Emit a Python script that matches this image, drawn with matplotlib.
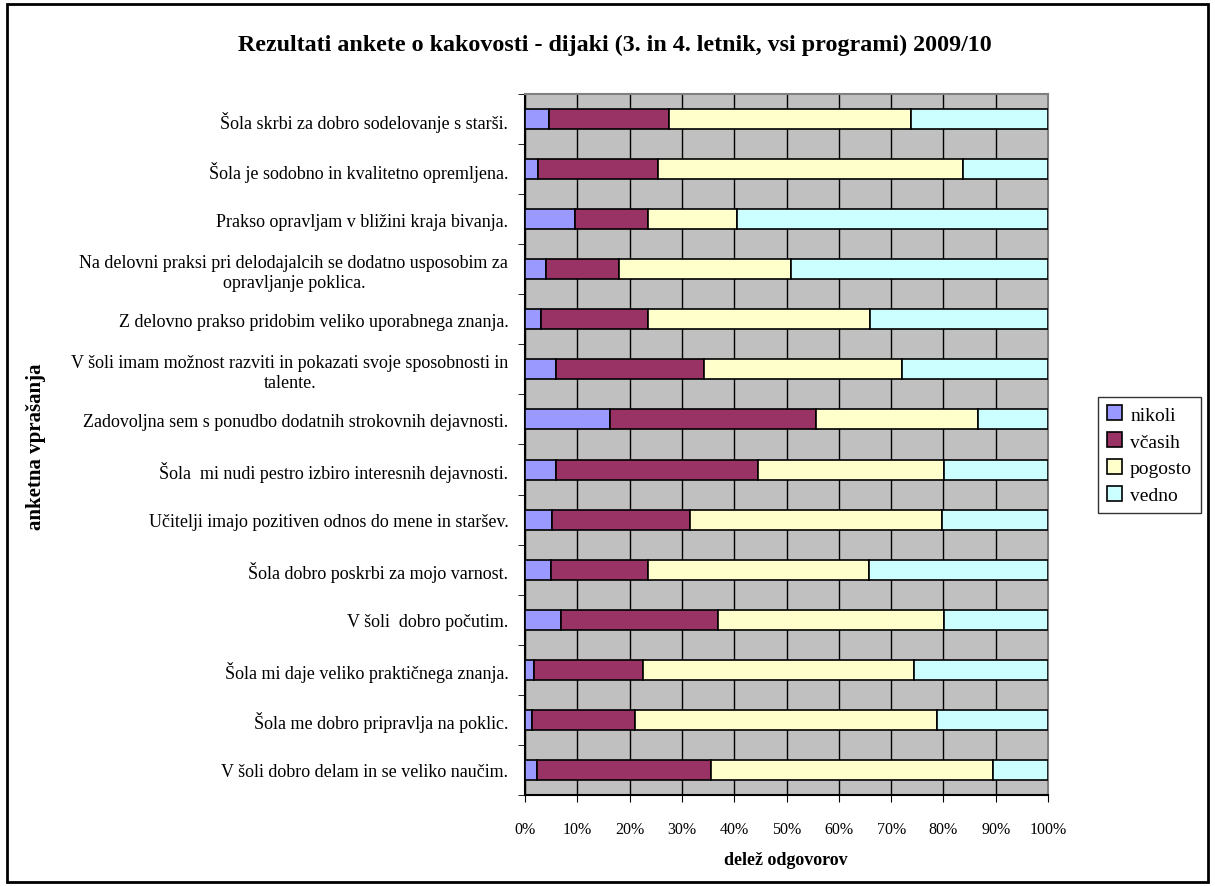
import matplotlib
matplotlib.use('Agg')
import matplotlib.pyplot as plt
from matplotlib.patches import Rectangle
from matplotlib.ticker import PercentFormatter
import numpy as np

plt.rcParams['font.family'] = ['Liberation Serif', 'DejaVu Serif']

# questions, top to bottom
vprasanja = [
    'Šola skrbi za dobro sodelovanje s starši.',
    'Šola je sodobno in kvalitetno opremljena.',
    'Prakso opravljam v bližini kraja bivanja.',
    'Na delovni praksi pri delodajalcih se dodatno usposobim za\nopravljanje poklica.',
    'Z delovno prakso pridobim veliko uporabnega znanja.',
    'V šoli imam možnost razviti in pokazati svoje sposobnosti in\ntalente.',
    'Zadovoljna sem s ponudbo dodatnih strokovnih dejavnosti.',
    'Šola  mi nudi pestro izbiro interesnih dejavnosti.',
    'Učitelji imajo pozitiven odnos do mene in staršev.',
    'Šola dobro poskrbi za mojo varnost.',
    'V šoli  dobro počutim.',
    'Šola mi daje veliko praktičnega znanja.',
    'Šola me dobro pripravlja na poklic.',
    'V šoli dobro delam in se veliko naučim.',
]

# share of answers in %
nikoli  = [4.5, 2.5, 9.5, 4.0, 3.1, 6.0, 16.2, 6.0, 5.1, 4.9, 6.9, 1.8, 1.3, 2.2]
vcasih  = [23.0, 23.0, 14.0, 13.9, 20.4, 28.3, 39.5, 38.5, 26.5, 18.6, 30.0, 20.8, 19.8, 33.4]
pogosto = [46.3, 58.2, 17.1, 32.9, 42.4, 37.8, 30.9, 35.7, 48.2, 42.2, 43.3, 51.7, 57.6, 53.9]
vedno   = [26.2, 16.3, 59.4, 49.2, 34.1, 27.9, 13.4, 19.8, 20.2, 34.3, 19.8, 25.7, 21.3, 10.5]

serije = ['nikoli', 'včasih', 'pogosto', 'vedno']
barve = ['#9999FF', '#993366', '#FFFFCC', '#CCFFFF']

data = np.array([nikoli, vcasih, pogosto, vedno])
data = data / data.sum(axis=0) * 100

fig = plt.figure(figsize=(12.15, 8.87), dpi=100)
ax = fig.add_axes([0.4321, 0.1026, 0.4305, 0.7903])
ax.set_facecolor('#C0C0C0')

y = np.arange(len(vprasanja))
left = np.zeros(len(vprasanja))
for i in range(len(serije)):
    ax.barh(y, data[i], left=left, height=0.4, color=barve[i],
            edgecolor='black', linewidth=1.2, label=serije[i], zorder=3)
    left = left + data[i]

ax.set_xlim(0, 100)
ax.set_ylim(len(vprasanja) - 0.5, -0.5)
ax.set_xticks(np.arange(0, 101, 10))
ax.xaxis.set_major_formatter(PercentFormatter(decimals=0))
ax.grid(axis='x', color='black', linewidth=1, zorder=1)
ax.set_axisbelow(True)

ax.set_yticks(y)
ax.set_yticklabels(vprasanja, fontsize=13, multialignment='center')
ax.set_yticks(np.arange(-0.5, len(vprasanja), 1), minor=True)
ax.tick_params(axis='y', which='major', length=0, pad=12)
ax.tick_params(axis='y', which='minor', length=5, color='black')
ax.tick_params(axis='x', length=5, labelsize=11.5, pad=14)

for s in ax.spines.values():
    s.set_color('#808080')
    s.set_linewidth(1.5)
ax.spines['left'].set_color('black')
ax.spines['bottom'].set_color('black')

fig.text(0.506, 0.949, 'Rezultati ankete o kakovosti - dijaki (3. in 4. letnik, vsi programi) 2009/10',
         ha='center', va='center', fontsize=17.3, fontweight='bold')
fig.text(0.647, 0.030, 'delež odgovorov', ha='center', va='center', fontsize=13, fontweight='bold')
fig.text(0.030, 0.496, 'anketna vprašanja', ha='center', va='center', rotation=90,
         fontsize=15, fontweight='bold')

leg = fig.legend(loc='center left', bbox_to_anchor=(0.9037, 0.486), fontsize=14,
                 frameon=True, fancybox=False, edgecolor='black', handlelength=0.8,
                 handleheight=0.8, handletextpad=0.4, labelspacing=0.45, borderpad=0.45,
                 borderaxespad=0)
leg.get_frame().set_linewidth(1)

fig.patches.append(Rectangle((0.006, 0.004), 0.988, 0.99, transform=fig.transFigure,
                             fill=False, edgecolor='black', linewidth=2))

plt.savefig('out.png', dpi=100)
